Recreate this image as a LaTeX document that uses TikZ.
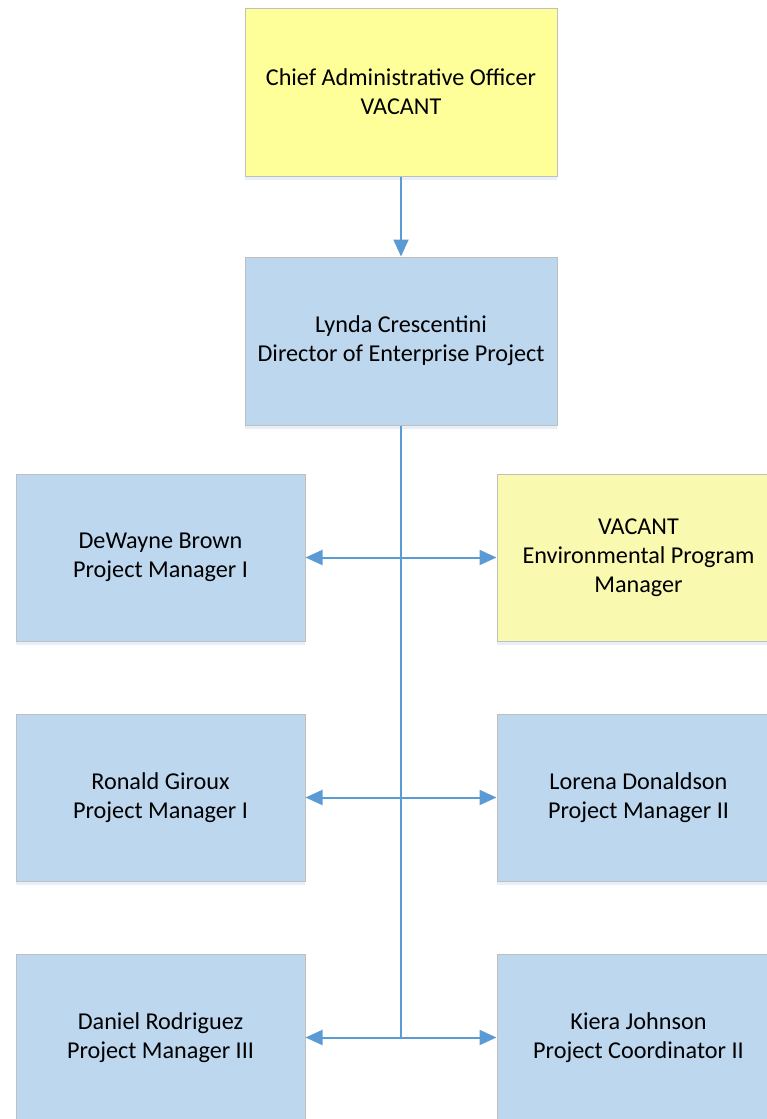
\documentclass[tikz,border=0pt]{standalone}
\usepackage{fontspec}
\setmainfont{Carlito}
\usetikzlibrary{arrows.meta,shadows}
\definecolor{boxblue}{HTML}{BDD7EE}
\definecolor{boxyellow}{HTML}{FFFF99}
\definecolor{boxyellowlt}{HTML}{F9F9B0}
\definecolor{boxline}{HTML}{BFBFBF}
\definecolor{connblue}{HTML}{5B9BD5}
\begin{document}
\begin{tikzpicture}[x=1pt,y=1pt,
  box/.style={draw=boxline, line width=1pt, rectangle, align=center,
    font=\fontsize{24.2}{29}\selectfont,
    drop shadow={shadow xshift=0pt, shadow yshift=-4pt, fill=connblue, opacity=0.15}},
  bigbox/.style={box, minimum width=312pt, minimum height=168pt},
  smallbox/.style={box, minimum width=289pt, minimum height=167pt},
  rightbox/.style={box, minimum width=283pt, minimum height=167pt},
  conn/.style={draw=connblue, line width=2pt},
  tip/.style={-{Triangle[length=17pt,width=15pt]}},
  tips/.style={{Triangle[length=17pt,width=15pt]}-{Triangle[length=17pt,width=15pt]}}
]
\useasboundingbox (0,0) rectangle (766,-1119);
\node[bigbox, fill=boxyellow] (cao) at (401,-92) {Chief Administrative Officer\\VACANT};
\node[bigbox, fill=boxblue] (dir) at (401,-341) {Lynda Crescentini\\Director of Enterprise Project};
\node[smallbox, fill=boxblue] (l1) at (160.5,-557.5) {DeWayne Brown\\Project Manager I};
\node[rightbox, fill=boxyellowlt] (r1) at (638.5,-557.5) {VACANT\\Environmental Program\\Manager};
\node[smallbox, fill=boxblue] (l2) at (160.5,-797.5) {Ronald Giroux\\Project Manager I};
\node[rightbox, fill=boxblue] (r2) at (638.5,-797.5) {Lorena Donaldson\\Project Manager II};
\node[smallbox, fill=boxblue] (l3) at (160.5,-1037.5) {Daniel Rodriguez\\Project Manager III};
\node[rightbox, fill=boxblue] (r3) at (638.5,-1037.5) {Kiera Johnson\\Project Coordinator II};
\draw[conn, tip] (cao.south) -- (dir.north);
\draw[conn] (dir.south) -- (dir.south |- l3.east);
\draw[conn, tips] (l1.east) -- (r1.west);
\draw[conn, tips] (l2.east) -- (r2.west);
\draw[conn, tips] (l3.east) -- (r3.west);
\end{tikzpicture}
\end{document}
